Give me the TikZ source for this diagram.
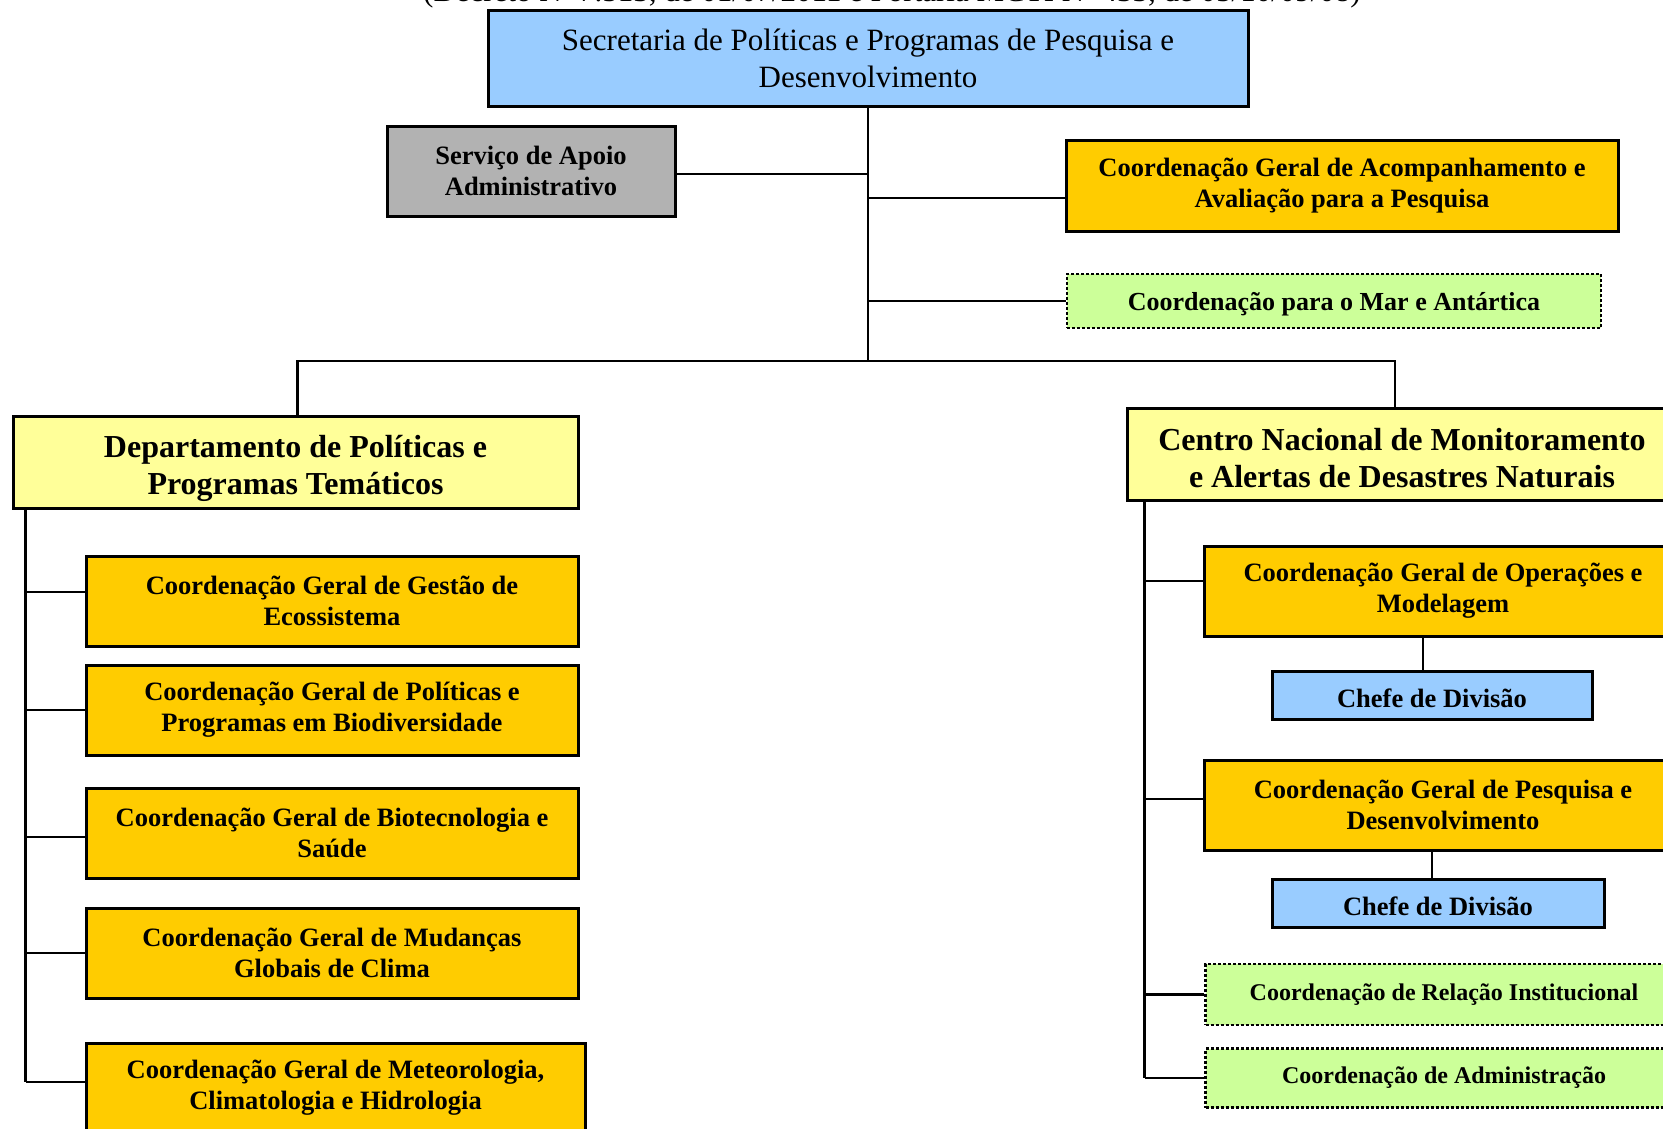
\documentclass[tikz,border=0pt]{standalone}
\usepackage{fontspec}
\setmainfont{Liberation Serif}
\usetikzlibrary{positioning}

\definecolor{secblue}{HTML}{99CCFF}
\definecolor{apoiogray}{HTML}{B2B2B2}
\definecolor{coordgold}{HTML}{FFCC00}
\definecolor{deptyellow}{HTML}{FFFF99}
\definecolor{novogreen}{HTML}{CCFF99}

\begin{document}
\begin{tikzpicture}[x=1pt, y=-1pt,
    unit/.style={draw=black, line width=3pt, inner sep=0pt, align=center,
        font=\bfseries\fontsize{26.5}{31}\selectfont},
    coord/.style={unit, fill=coordgold, minimum width=492pt, minimum height=90pt},
    coordr/.style={unit, fill=coordgold, minimum width=477pt, minimum height=90pt},
    dept/.style={unit, fill=deptyellow, minimum height=92pt,
        font=\bfseries\fontsize{32}{37}\selectfont},
    chefe/.style={unit, fill=secblue, minimum height=48pt, text height=25pt, text depth=0pt},
    novo/.style={unit, fill=novogreen, line width=2.5pt, dash pattern=on 3pt off 2pt,
        minimum width=477pt, font=\bfseries\fontsize{24}{29}\selectfont},
    link/.style={line width=2.5pt}]

    \useasboundingbox (0,0) rectangle (1663,1128);
    \clip (0,0) rectangle (1663,1128);

    % heading, cut by the top edge
    \node (decreto) [anchor=base, font=\fontsize{31}{37}\selectfont] at (892,1)
        {(Decreto Nº 7.513, de 01/07/2011 e Portaria MCTI Nº 433, de 05/10/09/08)};

    % secretaria and its direct units
    \node (sec) [unit, fill=secblue, minimum width=760pt, minimum height=96pt,
        font=\fontsize{31}{37}\selectfont] at (868,58)
        {Secretaria de Políticas e Programas de Pesquisa e\\Desenvolvimento};
    \node (apoio) [unit, fill=apoiogray, minimum width=288pt, minimum height=90pt] at (531,171)
        {Serviço de Apoio\\Administrativo};
    \node (acomp) [unit, fill=coordgold, minimum width=552pt, minimum height=91pt] at (1342,186)
        {Coordenação Geral de Acompanhamento e\\Avaliação para a Pesquisa};
    \node (mar) [novo, minimum width=534pt, minimum height=54pt, text height=24pt,
        font=\bfseries\fontsize{26}{31}\selectfont] at (1334,301)
        {Coordenação para o Mar e Antártica};

    \coordinate (hub) at (868,361);
    \draw[link] (sec.south) -- (hub);
    \draw[link] ([yshift=-3pt]apoio.east) -- ([yshift=-3pt]apoio.east -| hub);
    \draw[link] ([yshift=-12pt]acomp.west) -- ([yshift=-12pt]acomp.west -| hub);
    \draw[link] (mar.west) -- (mar.west -| hub);

    % departamento (left branch)
    \node (dept) [dept, minimum width=565pt] at (295.5,462)
        {\rule{0pt}{35pt}Departamento de Políticas e\\Programas Temáticos};
    \node (gestao) [coord] at (332,601) {Coordenação Geral de Gestão de\\Ecossistema};
    \node (biodiv) [coord] at (332,710) {Coordenação Geral de Políticas e\\Programas em Biodiversidade};
    \node (biotec) [coord] at (332,833) {Coordenação Geral de Biotecnologia e\\Saúde};
    \node (clima) [coord] at (332,953) {Coordenação Geral de Mudanças\\Globais de Clima};
    \node (meteo) [coord, minimum width=499pt] at (335.5,1088)
        {Coordenação Geral de Meteorologia,\\Climatologia e Hidrologia};

    % centro nacional (right branch)
    \node (cemaden) [dept, minimum width=550pt] at (1402,454)
        {\rule{0pt}{31pt}Centro Nacional de Monitoramento\\e Alertas de Desastres Naturais};
    \node (oper) [coordr] at (1443,591) {Coordenação Geral de Operações e\\Modelagem};
    \node (chefeA) [chefe, minimum width=320pt] at (1432,695) {Chefe de Divisão};
    \node (pesq) [coordr] at (1443,805) {Coordenação Geral de Pesquisa e\\Desenvolvimento};
    \node (chefeB) [chefe, minimum width=332pt] at (1438,903) {Chefe de Divisão};
    \node (relacao) [novo, minimum height=61pt] at (1444,994.5) {Coordenação de Relação Institucional};
    \node (admin) [novo, minimum height=59pt] at (1444,1078) {Coordenação de Administração};

    % bar to the two branches
    \draw[link] ([xshift=2pt]dept.north) |- (hub);
    \draw[link] ([xshift=-7pt]cemaden.north) |- (hub);

    % left spine
    \coordinate (lspine) at ([xshift=14pt]dept.south west);
    \draw[link] (lspine) -- (lspine |- 0,1082);
    \draw[link] ([yshift=9pt]gestao.west) -- ([yshift=9pt]gestao.west -| lspine);
    \draw[link] (biodiv.west) -- (biodiv.west -| lspine);
    \draw[link] ([yshift=-4pt]biotec.west) -- ([yshift=-4pt]biotec.west -| lspine);
    \draw[link] (clima.west) -- (clima.west -| lspine);
    \draw[link] ([yshift=6pt]meteo.west) -- ([yshift=6pt]meteo.west -| lspine);

    % right spine
    \coordinate (rspine) at ([xshift=19pt]cemaden.south west);
    \draw[link] (rspine) -- (rspine |- admin.west);
    \draw[link] ([yshift=10pt]oper.west) -- ([yshift=10pt]oper.west -| rspine);
    \draw[link] ([yshift=6pt]pesq.west) -- ([yshift=6pt]pesq.west -| rspine);
    \draw[link] (relacao.west) -- (relacao.west -| rspine);
    \draw[link] (admin.west) -- (admin.west -| rspine);
    \draw[link] ([xshift=-9pt]chefeA.north) -- ([xshift=-9pt]chefeA.north |- oper.south);
    \draw[link] ([xshift=-6pt]chefeB.north) -- ([xshift=-6pt]chefeB.north |- pesq.south);

\end{tikzpicture}
\end{document}
